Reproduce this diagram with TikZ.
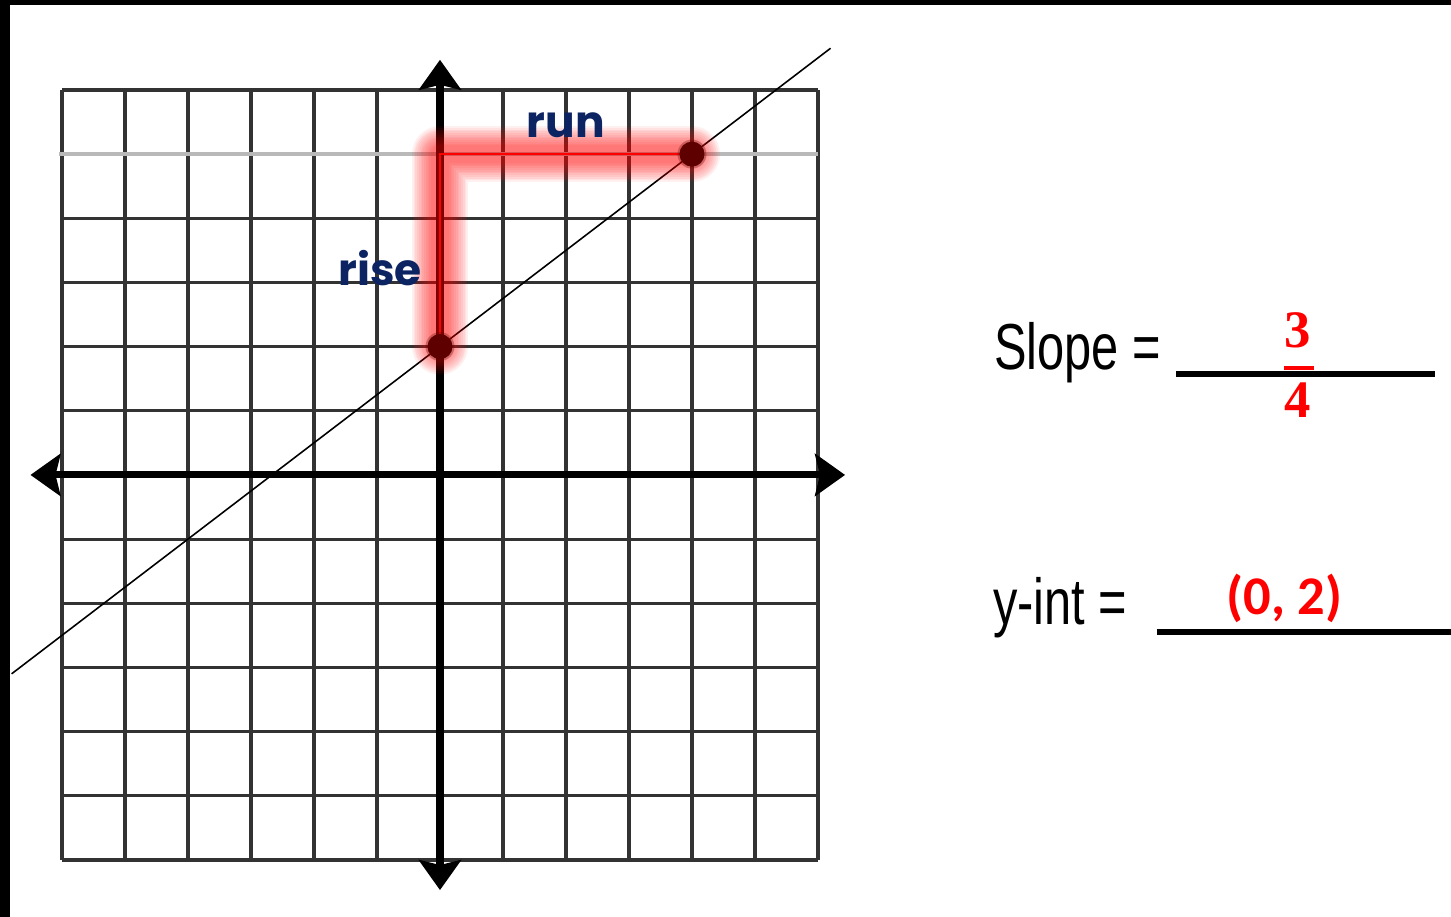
\documentclass[tikz,border=0pt]{standalone}
\usepackage{fontspec}
\usepackage{tikz}
\usetikzlibrary{positioning,calc,arrows.meta}
\usepackage{xcolor}

\newfontfamily\gothfont{Poppins}
\newfontfamily\handfont[FakeStretch=0.75]{Liberation Sans}
\newfontfamily\fracfont{Liberation Serif}
\newfontfamily\intfont{Carlito}

\definecolor{navy}{RGB}{12,36,98}
\definecolor{gridgray}{RGB}{51,51,51}
\definecolor{rowgray}{RGB}{185,185,185}
\definecolor{dotred}{RGB}{95,0,0}

\begin{document}
\begin{tikzpicture}[x=1.26cm,y=1.2833cm,
    gridline/.style={draw=gridgray,line width=1.8pt},
    axis/.style={line width=4pt,
        {Stealth[length=0.6cm,width=0.84cm,inset=0.1cm]}-{Stealth[length=0.6cm,width=0.84cm,inset=0.1cm]}},
    glow/.style={red,line join=round,line cap=round},
    dot/.style={circle,fill=dotred,minimum size=0.5cm,inner sep=0pt},
    lbl/.style={text=navy,font=\gothfont\bfseries\fontsize{25}{30}\selectfont},
    hand/.style={font=\handfont\fontsize{37}{44}\selectfont,anchor=base west},
    answerline/.style={line width=3.4pt},
    num/.style={text=red,font=\fracfont\bfseries\fontsize{30}{34}\selectfont}]

% Cadre
\useasboundingbox (-6.984,-6.888) rectangle (16.048,7.402);
\fill[black] (-6.984,-6.888) rectangle (16.048,7.402);
\fill[white] (-6.825,-6.888) rectangle (16.048,7.324);

% Quadrillage
\foreach \i in {-6,...,6} {
    \draw[gridline] (\i,-6) -- (\i,6);
    \draw[gridline] (-6,\i) -- (6,\i);
}
\draw[rowgray,line width=2.3pt] (-6.05,5) -- (6,5);

% Axes
\draw[axis] (-6.5,0) -- (6.43,0);
\draw[axis] (0,-6.47) -- (0,6.47);

% Points
\coordinate (yint) at (0,2);
\coordinate (corner) at (0,5);
\coordinate (pt) at (4,5);

% Droite
\draw[line width=0.9pt] ($(yint)!-1.7!(pt)$) -- ($(yint)!1.55!(pt)$);

% Montee et course
\foreach \k [evaluate=\k as \w using 34-2*\k] in {1,...,12} {
    \draw[glow,line width=\w pt,opacity=0.06] (yint) -- (corner) -- (pt);
}
\draw[red,line width=1.1pt] (yint) -- (corner) -- (pt);
\fill[dotred,opacity=0.3] (yint) circle (0.29cm);
\fill[dotred,opacity=0.3] (pt) circle (0.29cm);
\node[dot] (dotA) at (yint) {};
\node[dot] (dotB) at (pt) {};

\node[lbl] (rise) at (-0.95,3.23) {rise};
\node[lbl] (run) at (2.0,5.45) {run};

% Pente
\node[hand] (slope) at (8.70,1.636) {Slope =};
\coordinate (s1) at (11.68,1.574);
\coordinate (s2) at (15.79,1.574);
\draw[answerline] (s1) -- (s2);
\node[num] (num) at (13.62,2.26) {3};
\node[num] (den) at (13.62,1.169) {4};
\coordinate (b1) at (13.40,1.667);
\coordinate (b2) at (13.87,1.667);
\draw[red,line width=2.3pt] (b1) -- (b2);

% Ordonnee a l'origine
\node[hand] (yintlbl) at (8.68,-2.338) {y-int =};
\coordinate (i1) at (11.38,-2.447);
\coordinate (i2) at (16.05,-2.447);
\draw[answerline] (i1) -- (i2);
\node[text=red,font=\intfont\bfseries\fontsize{31}{36}\selectfont] (ans) at (13.40,-1.917) {(0, 2)};

\end{tikzpicture}
\end{document}
